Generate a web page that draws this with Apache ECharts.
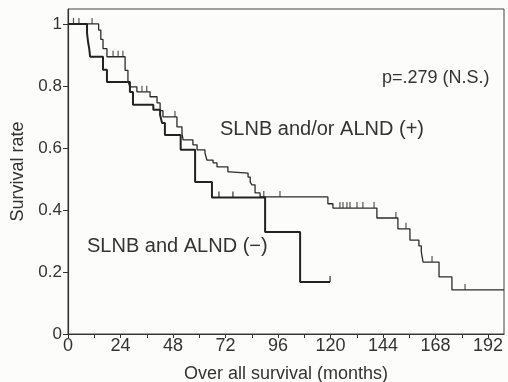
<!DOCTYPE html>
<html>
<head>
<meta charset="utf-8">
<script src="https://cdn.jsdelivr.net/npm/echarts@6/dist/echarts.min.js"></script>
<style>
html,body{margin:0;padding:0;background:#fcfcfb;}
#chart{width:508px;height:382px;}
</style>
</head>
<body>
<div id="chart"></div>
<script>
// SLNB and ALND (-) : event times (months) and survival after each step
var negTimes = [0, 8.7, 9.2, 9.7, 10.1, 16.0, 17.8, 28.3, 29.7, 39.0, 42.1, 43.0, 44.3, 51.5, 58.1, 65.8, 90.1, 106.1, 119.8];
var negSurv  = [1.0, 0.97, 0.94, 0.92, 0.894, 0.852, 0.813, 0.78, 0.739, 0.723, 0.706, 0.68, 0.642, 0.594, 0.49, 0.44, 0.329, 0.168, 0.168];
var negCensor = [69.0, 75.4, 119.8];

// SLNB and/or ALND (+)
var posTimes = [0, 14.0, 15.0, 16.0, 17.8, 26.1, 27.4, 28.3, 31.5, 37.5, 40.7, 42.1, 43.4, 49.8, 52.1, 52.6, 57.1, 59.0, 62.6, 63.5, 66.3, 68.1, 73.1, 74.1, 82.3, 83.3, 84.1, 85.5, 87.8, 118.8, 121.1, 141.2, 150.8, 156.3, 160.4, 161.5, 162.3, 169.6, 175.5, 199.3];
var posSurv  = [1.0, 0.98, 0.95, 0.92, 0.894, 0.85, 0.815, 0.797, 0.781, 0.765, 0.745, 0.72, 0.70, 0.668, 0.648, 0.626, 0.61, 0.594, 0.584, 0.561, 0.552, 0.539, 0.523, 0.519, 0.506, 0.49, 0.481, 0.455, 0.442, 0.42, 0.406, 0.374, 0.339, 0.303, 0.284, 0.265, 0.232, 0.184, 0.142, 0.142];
var posCensor = [2.5, 5, 11, 20.6, 22.9, 25.1, 33.8, 36, 48.9, 89.5, 96.9, 124.3, 125.7, 127.5, 128.9, 132.1, 134.8, 139.9, 149.9, 154.5, 166.4, 181.5];

var xTicks = [0, 24, 48, 72, 96, 120, 144, 168, 192];
var xMinorTicks = [0, 12, 24, 36, 48, 60, 72, 84, 96, 108, 120, 132, 144, 156, 168, 180, 192];
var yTicks = [0, 0.2, 0.4, 0.6, 0.8, 1];

var xLabel = 'Over all survival (months)';
var yLabel = 'Survival rate';
var pText = 'p=.279 (N.S.)';
var posLabel = 'SLNB and/or ALND (+)';
var negLabel = 'SLNB and ALND (\u2212)';

function pairs(t, s) { return t.map(function (v, i) { return [v, s[i]]; }); }
function survAt(t, s, x) {
  var v = s[0];
  for (var i = 0; i < t.length; i++) { if (t[i] <= x) v = s[i]; }
  return v;
}
function censorPts(c, t, s) { return c.map(function (x) { return [x, survAt(t, s, x)]; }); }

var font = '"Liberation Sans", Arial, Helvetica, sans-serif';
var ink = '#2b2b2b';

var chart = echarts.init(document.getElementById('chart'));
chart.setOption({
  backgroundColor: '#fcfcfb',
  animation: false,
  grid: { left: 68, right: 4, top: 9, bottom: 48, show: true, borderColor: '#444', borderWidth: 1,
          backgroundColor: 'transparent', containLabel: false, outerBoundsMode: 'none' },
  xAxis: {
    type: 'value', min: 0, max: 199.3,
    axisLine: { lineStyle: { color: '#333', width: 1.2 } },
    axisTick: { show: true, length: 4, customValues: xMinorTicks, lineStyle: { color: '#333' } },
    axisLabel: { customValues: xTicks, color: '#333', fontSize: 18, fontFamily: font, margin: 3 },
    splitLine: { show: false },
    name: xLabel, nameLocation: 'middle', nameGap: 31,
    nameTextStyle: { color: '#333', fontSize: 18, fontFamily: font }
  },
  yAxis: {
    type: 'value', min: 0, max: 1.048,
    axisLine: { show: true, lineStyle: { color: '#333', width: 1.2 } },
    axisTick: { show: true, length: 5, customValues: yTicks, lineStyle: { color: '#333' } },
    axisLabel: { customValues: yTicks, color: '#333', fontSize: 17, fontFamily: font, margin: 6 },
    splitLine: { show: false },
    name: yLabel, nameLocation: 'middle', nameGap: 39,
    nameTextStyle: { color: '#333', fontSize: 18, fontFamily: font }
  },
  series: [
    { type: 'line', step: 'end', data: pairs(posTimes, posSurv), showSymbol: false,
      lineStyle: { color: ink, width: 1.3 }, z: 3 },
    { type: 'line', step: 'end', data: pairs(negTimes, negSurv), showSymbol: false,
      lineStyle: { color: '#222', width: 2 }, z: 4 },
    { type: 'scatter', data: censorPts(posCensor, posTimes, posSurv), symbol: 'rect',
      symbolSize: [1.2, 6], symbolOffset: [0, -3], itemStyle: { color: ink }, z: 5 },
    { type: 'scatter', data: censorPts(negCensor, negTimes, negSurv), symbol: 'rect',
      symbolSize: [1.4, 6], symbolOffset: [0, -3], itemStyle: { color: '#222' }, z: 5 }
  ],
  graphic: [
    { type: 'text', left: 382, top: 69, style: { text: pText, fill: '#333', font: '18px ' + font } },
    { type: 'text', left: 220, top: 119, style: { text: posLabel, fill: '#333', font: '20px ' + font } },
    { type: 'text', left: 87, top: 236, style: { text: negLabel, fill: '#333', font: '20px ' + font } }
  ]
});
</script>
</body>
</html>
